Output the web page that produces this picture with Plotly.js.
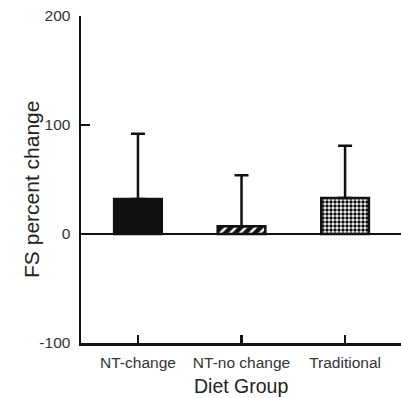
<!DOCTYPE html>
<html>
<head>
<meta charset="utf-8">
<script src="https://cdn.plot.ly/plotly-3.0.1.min.js"></script>
<style>html,body{margin:0;padding:0;background:#fff;}#chart{width:401px;height:398px;}</style>
</head>
<body>
<div id="chart"></div>
<script>
const categories = ["NT-change", "NT-no change", "Traditional"];
const means = [32, 7, 33];
const upperErrors = [60, 47, 48];
const yTicks = [-100, 0, 100, 200];
const yTickText = ["-100", "0", "100", "200"];

const patterns = [
  {shape: "", bgcolor: "#111"},
  {shape: "/", bgcolor: "#111", fgcolor: "#fff", size: 7, solidity: 0.35},
  {shape: ".", bgcolor: "#fff", fgcolor: "#111", size: 4, solidity: 0.6}
];

const traces = categories.map((c, i) => ({
  type: "bar",
  x: [c],
  y: [means[i]],
  width: 0.46,
  marker: {
    color: "#111",
    line: {color: "#111", width: 2.5},
    pattern: patterns[i]
  },
  error_y: {
    type: "data",
    symmetric: false,
    array: [upperErrors[i]],
    arrayminus: [0],
    color: "#111",
    thickness: 2.5,
    width: 7
  },
  showlegend: false,
  hoverinfo: "none"
}));

const layout = {
  width: 401, height: 398,
  margin: {l: 81, r: 0, t: 16, b: 55},
  paper_bgcolor: "#fff", plot_bgcolor: "#fff",
  font: {family: "Liberation Sans, Arial, sans-serif", color: "#333"},
  xaxis: {
    type: "category",
    range: [-0.55, 2.54],
    showline: true, linecolor: "#111", linewidth: 2.5,
    ticks: "inside", ticklen: 8, tickwidth: 2.5, tickcolor: "#111",
    showgrid: false, zeroline: false,
    tickfont: {size: 15.5, color: "#333"},
    ticklabelstandoff: 4
  },
  yaxis: {
    range: [-100, 200],
    tickvals: yTicks,
    ticktext: yTickText,
    showline: true, linecolor: "#111", linewidth: 2.5,
    ticks: "inside", ticklen: 9, tickwidth: 2.5, tickcolor: "#111",
    showgrid: false,
    zeroline: true, zerolinecolor: "#111", zerolinewidth: 2.5,
    tickfont: {size: 15.5, color: "#333"},
    ticklabelstandoff: 5
  },
  annotations: [
    {text: "FS percent change", xref: "paper", yref: "paper",
     x: (32 - 81) / 320, y: 0.468, xanchor: "center", yanchor: "middle",
     textangle: -90, showarrow: false, font: {size: 21, color: "#222"}},
    {text: "Diet Group", xref: "paper", yref: "paper",
     x: 0.5, y: -0.13, xanchor: "center", yanchor: "middle",
     showarrow: false, font: {size: 19.5, color: "#222"}}
  ]
};

Plotly.newPlot("chart", traces, layout, {displayModeBar: false, staticPlot: true});
</script>
</body>
</html>
